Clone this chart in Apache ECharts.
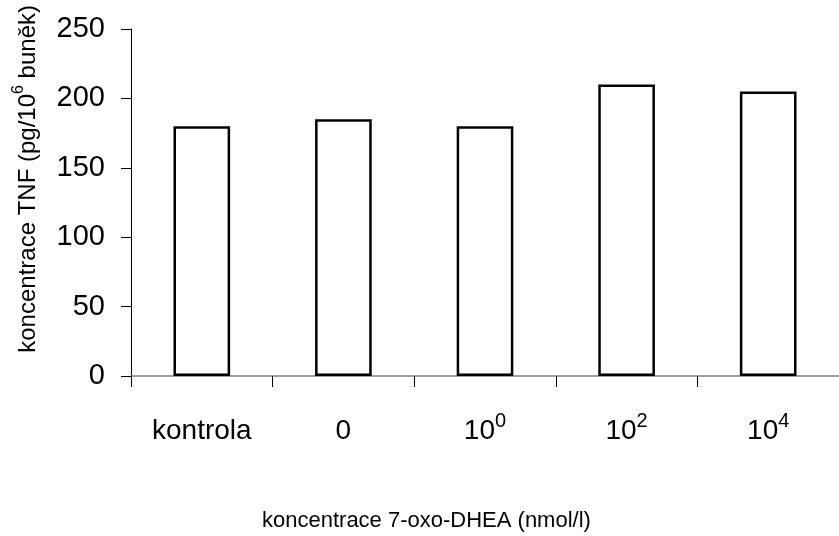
<!DOCTYPE html>
<html><head><meta charset="utf-8">
<script src="https://cdn.jsdelivr.net/npm/echarts@6/dist/echarts.min.js"></script>
<style>html,body{margin:0;padding:0;background:#fff}#c{width:839px;height:536px}</style>
</head><body><div id="c"></div>
<script>
const categories = ['kontrola', '0', '10^0', '10^2', '10^4'];
const values = [180, 185, 180, 210, 205];
const yTicks = [0, 50, 100, 150, 200, 250];
const yTitle = ['koncentrace TNF (pg/10', '6', ' buněk)'];
const xTitle = 'koncentrace 7-oxo-DHEA (nmol/l)';

const FONT = 'Arial, "Liberation Sans", sans-serif';
const chart = echarts.init(document.getElementById('c'));
function fmtCat(v) {
  const i = v.indexOf('^');
  if (i < 0) return '{b|' + v + '}';
  return '{b|' + v.slice(0, i) + '}{s|' + v.slice(i + 1) + '}';
}
chart.setOption({
  animation: false,
  backgroundColor: '#fff',
  grid: { left: 131, top: 29, width: 715, height: 347, containLabel: false },
  xAxis: {
    type: 'category', data: categories,
    axisLine: { lineStyle: { color: '#808080', width: 1.5 } },
    axisTick: { show: true, length: 11, alignWithLabel: false, lineStyle: { color: '#000', width: 1 } },
    axisLabel: {
      margin: 35, formatter: fmtCat,
      rich: {
        b: { fontFamily: FONT, fontSize: 28, color: '#000', lineHeight: 40 },
        s: { fontFamily: FONT, fontSize: 20, color: '#000', verticalAlign: 'top' }
      }
    }
  },
  yAxis: {
    type: 'value', min: 0, max: 250, interval: 50,
    splitLine: { show: false },
    axisLine: { show: true, lineStyle: { color: '#000', width: 1 } },
    axisTick: { show: true, length: 10, lineStyle: { color: '#000' } },
    axisLabel: { fontFamily: FONT, fontSize: 29, color: '#000', margin: 26,
      formatter: v => yTicks.includes(v) ? String(v) : '' }
  },
  graphic: [
    {
      type: 'text', left: 11, top: 5, rotation: Math.PI / 2,
      style: {
        text: '{b|' + yTitle[0] + '}{s|' + yTitle[1] + '}{b|' + yTitle[2] + '}',
        rich: {
          b: { fontFamily: FONT, fontSize: 24, fill: '#000', lineHeight: 34 },
          s: { fontFamily: FONT, fontSize: 16, fill: '#000', verticalAlign: 'top' }
        }
      }
    },
    {
      type: 'text', left: 262, top: 510,
      style: { text: xTitle, font: '22px ' + FONT, fill: '#000' }
    }
  ],
  series: [{
    type: 'bar', data: values, barWidth: '40%',
    itemStyle: { color: '#fff', borderColor: '#000', borderWidth: 2.5 }
  }]
});
</script></body></html>
